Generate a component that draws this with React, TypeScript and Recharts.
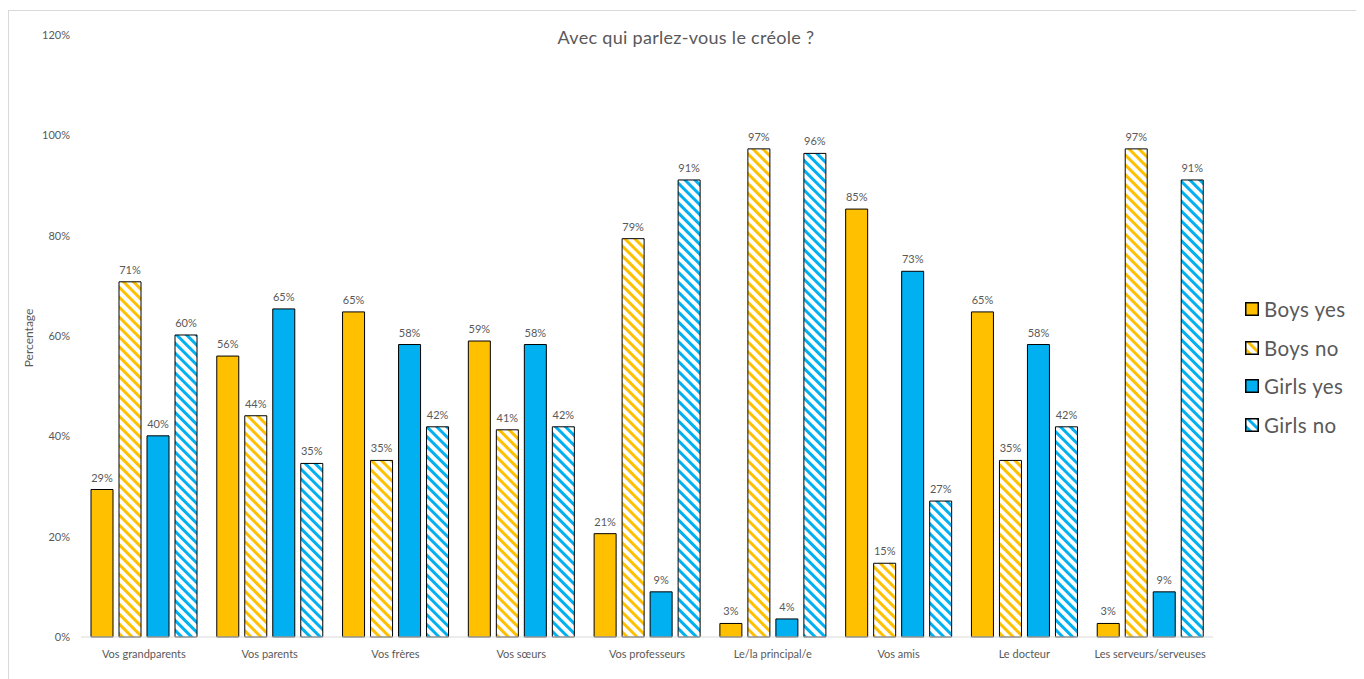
import React from "react";
import { BarChart, Bar, XAxis, YAxis, LabelList } from "recharts";

const categories = [
  "Vos grandparents",
  "Vos parents",
  "Vos frères",
  "Vos sœurs",
  "Vos professeurs",
  "Le/la principal/e",
  "Vos amis",
  "Le docteur",
  "Les serveurs/serveuses",
];

const boysYes = [29.4, 56, 64.8, 59, 20.6, 2.7, 85.3, 64.8, 2.7];
const boysNo = [70.8, 44.1, 35.2, 41.3, 79.4, 97.3, 14.7, 35.2, 97.3];
const girlsYes = [40.1, 65.4, 58.3, 58.3, 9.0, 3.6, 72.9, 58.3, 9.0];
const girlsNo = [60.2, 34.6, 41.9, 41.9, 91.1, 96.4, 27.1, 41.9, 91.1];

const yTicks = [0, 20, 40, 60, 80, 100, 120];

const seriesNames = ["Boys yes", "Boys no", "Girls yes", "Girls no"];

const ORANGE = "#FFC000";
const BLUE = "#00B0F0";
const TEXT = "#595959";
const FONT = "Lato, 'Open Sans', sans-serif";

const data = categories.map((name, i) => ({
  name,
  boysYes: boysYes[i],
  boysNo: boysNo[i],
  girlsYes: girlsYes[i],
  girlsNo: girlsNo[i],
}));

const pct = (v: any) => `${Math.round(Number(v))}%`;

const legendFill = ["#FFC000", "url(#hatchOrangeLeg)", "#00B0F0", "url(#hatchBlueLeg)"];

function Hatch({ id, color }: { id: string; color: string }) {
  return (
    <pattern
      id={id}
      patternUnits="userSpaceOnUse"
      width={7}
      height={7}
      patternTransform="rotate(-45)"
    >
      <rect x={0} y={0} width={7} height={7} fill="#fff" />
      <rect x={0} y={0} width={3} height={7} fill={color} />
    </pattern>
  );
}

export default function App() {
  return (
    <div
      style={{
        position: "relative",
        marginTop: 2,
        width: 1354,
        height: 670,
        borderLeft: "1px solid #d9d9d9",
        borderTop: "1px solid #d9d9d9",
        fontFamily: FONT,
      }}
    >
      <div
        style={{
          position: "absolute",
          left: 0,
          width: 1354,
          top: 15,
          textAlign: "center",
          fontSize: 18,
          letterSpacing: 0.3,
          color: TEXT,
        }}
      >
        Avec qui parlez-vous le créole ?
      </div>
      <div
        style={{
          position: "absolute",
          left: 19,
          top: 327,
          transform: "translate(-50%, -50%) rotate(-90deg)",
          fontSize: 12,
          color: TEXT,
          whiteSpace: "nowrap",
        }}
      >
        Percentage
      </div>

      <BarChart
        width={1352}
        height={660}
        data={data}
        margin={{ top: 24, right: 148, bottom: 4, left: 1 }}
        barCategoryGap={10}
        barGap={6}
      >
        <defs>
          <Hatch id="hatchOrange" color={ORANGE} />
          <Hatch id="hatchBlue" color={BLUE} />
        </defs>
        <XAxis
          dataKey="name"
          interval={0}
          tickLine={false}
          axisLine={{ stroke: "#d9d9d9" }}
          tick={{ fontSize: 11, fill: TEXT, fontFamily: FONT }}
          tickSize={8}
          tickMargin={5}
          height={30}
        />
        <YAxis
          domain={[0, 120]}
          ticks={yTicks}
          tickFormatter={(v) => `${v}%`}
          axisLine={false}
          tickLine={false}
          tick={{ fontSize: 11, fill: TEXT, fontFamily: FONT }}
          tickSize={9}
          tickMargin={2}
          width={71}
        />
        <Bar dataKey="boysYes" fill={ORANGE} stroke="#000" strokeWidth={1} isAnimationActive={false}>
          <LabelList dataKey="boysYes" position="top" offset={8} formatter={pct} style={{ fontSize: 11, fill: TEXT, fontFamily: FONT }} />
        </Bar>
        <Bar dataKey="boysNo" fill="url(#hatchOrange)" stroke="#000" strokeWidth={1} isAnimationActive={false}>
          <LabelList dataKey="boysNo" position="top" offset={8} formatter={pct} style={{ fontSize: 11, fill: TEXT, fontFamily: FONT }} />
        </Bar>
        <Bar dataKey="girlsYes" fill={BLUE} stroke="#000" strokeWidth={1} isAnimationActive={false}>
          <LabelList dataKey="girlsYes" position="top" offset={8} formatter={pct} style={{ fontSize: 11, fill: TEXT, fontFamily: FONT }} />
        </Bar>
        <Bar dataKey="girlsNo" fill="url(#hatchBlue)" stroke="#000" strokeWidth={1} isAnimationActive={false}>
          <LabelList dataKey="girlsNo" position="top" offset={8} formatter={pct} style={{ fontSize: 11, fill: TEXT, fontFamily: FONT }} />
        </Bar>
      </BarChart>

      <div style={{ position: "absolute", left: 1236, top: 279 }}>
        {seriesNames.map((name, i) => (
          <div
            key={name}
            style={{ display: "flex", alignItems: "center", height: 38.5, fontSize: 20.5, letterSpacing: 0.4, color: TEXT }}
          >
            <svg width={14} height={14} style={{ marginRight: 5 }}>
              <defs>
                <Hatch id="hatchOrangeLeg" color={ORANGE} />
                <Hatch id="hatchBlueLeg" color={BLUE} />
              </defs>
              <rect x={0.75} y={0.75} width={12.5} height={12.5} fill={legendFill[i]} stroke="#000" strokeWidth={1.5} />
            </svg>
            {name}
          </div>
        ))}
      </div>
    </div>
  );
}
